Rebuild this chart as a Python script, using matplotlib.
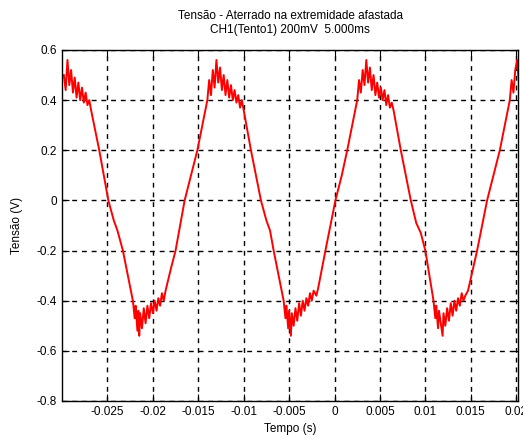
import numpy as np
import matplotlib
matplotlib.use("Agg")
from matplotlib import pyplot as plt

plt.rcParams['font.family'] = ['Liberation Sans', 'DejaVu Sans']
plt.rcParams['axes.unicode_minus'] = False

# trace: time (ms) and voltage (V)
tempo_ms = [
    -29.8, -29.6, -29.4, -29.2, -29.0, -28.8, -28.6, -28.4, -28.2, -28.0,
    -27.8, -27.6, -27.4, -27.2, -27.0, -26.8,
    -25.9, -24.9, -24.3, -23.9, -23.3, -22.2,
    -22.0, -21.9, -21.7, -21.6, -21.5, -21.4, -21.2, -21.0, -20.8, -20.6,
    -20.4, -20.2, -20.0, -19.8, -19.6, -19.4, -19.2, -19.0, -18.8, -18.6,
    -18.0, -17.5, -16.5, -15.8, -15.1, -14.5, -14.0,
    -13.8, -13.6, -13.4, -13.2, -13.0, -12.8, -12.6, -12.4, -12.2, -12.0,
    -11.8, -11.6, -11.4, -11.2, -11.0, -10.8, -10.6, -10.4, -10.2, -10.0,
    -9.2, -8.1, -7.5, -7.1, -6.7, -5.6,
    -5.4, -5.3, -5.1, -5.0, -4.8, -4.7, -4.5, -4.3, -4.1, -3.9,
    -3.7, -3.5, -3.3, -3.1, -2.9, -2.7, -2.5, -2.3, -2.0, -1.8,
    -1.0, 0.1, 0.8, 1.4, 2.0, 2.5,
    2.7, 2.9, 3.1, 3.3, 3.5, 3.7, 3.9, 4.1, 4.3, 4.5,
    4.7, 4.9, 5.1, 5.3, 5.5, 5.7, 5.9, 6.1, 6.3, 6.5,
    7.3, 8.4, 9.0, 9.5, 10.0, 10.9,
    11.1, 11.2, 11.4, 11.5, 11.7, 11.9, 12.0, 12.2, 12.4, 12.6,
    12.8, 13.0, 13.2, 13.4, 13.6, 13.8, 14.0, 14.2, 14.4, 14.7,
    15.2, 15.7, 16.8, 17.5, 18.2, 18.8, 19.3,
    19.5, 19.7, 19.9, 20.1, 20.3,
]
tensao = [
    0.50, 0.44, 0.56, 0.46, 0.52, 0.43, 0.49, 0.41, 0.47, 0.40,
    0.45, 0.39, 0.43, 0.38, 0.40, 0.36,
    0.20, 0.00, -0.08, -0.12, -0.20, -0.40,
    -0.47, -0.42, -0.52, -0.44, -0.54, -0.45, -0.51, -0.43, -0.49, -0.42,
    -0.47, -0.41, -0.45, -0.40, -0.44, -0.39, -0.42, -0.37, -0.40, -0.36,
    -0.27, -0.20, 0.00, 0.10, 0.20, 0.31, 0.40,
    0.48, 0.42, 0.52, 0.45, 0.56, 0.47, 0.53, 0.44, 0.50, 0.42,
    0.48, 0.41, 0.46, 0.40, 0.44, 0.39, 0.42, 0.37, 0.40, 0.36,
    0.20, 0.00, -0.08, -0.12, -0.20, -0.40,
    -0.47, -0.42, -0.51, -0.44, -0.54, -0.45, -0.50, -0.43, -0.48, -0.41,
    -0.46, -0.40, -0.44, -0.39, -0.42, -0.37, -0.40, -0.36, -0.38, -0.35,
    -0.20, 0.00, 0.10, 0.20, 0.31, 0.40,
    0.48, 0.43, 0.52, 0.46, 0.56, 0.47, 0.53, 0.44, 0.50, 0.42,
    0.47, 0.41, 0.45, 0.40, 0.44, 0.38, 0.42, 0.37, 0.39, 0.36,
    0.20, 0.00, -0.09, -0.13, -0.20, -0.40,
    -0.47, -0.42, -0.51, -0.44, -0.49, -0.54, -0.45, -0.50, -0.43, -0.48,
    -0.41, -0.46, -0.40, -0.44, -0.39, -0.42, -0.37, -0.40, -0.38, -0.36,
    -0.28, -0.20, 0.00, 0.10, 0.20, 0.31, 0.40,
    0.48, 0.43, 0.52, 0.56, 0.47,
]

xticks = [-0.025, -0.02, -0.015, -0.01, -0.005, 0, 0.005, 0.01, 0.015, 0.02]
xlabels = ["-0.025", "-0.02", "-0.015", "-0.01", "-0.005", "0", "0.005", "0.01", "0.015", "0.02"]
yticks = [-0.8, -0.6, -0.4, -0.2, 0, 0.2, 0.4, 0.6]
ylabels = ["-0.8", "-0.6", "-0.4", "-0.2", "0", "0.2", "0.4", "0.6"]

t = np.array(tempo_ms) / 1000.0

fig = plt.figure(figsize=(5.23, 4.38), dpi=100)
ax = fig.add_axes([0.1186, 0.0845, 0.8718, 0.8014])
ax.plot(t, tensao, color="#ff0000", linewidth=1.4)

ax.set_xlim(-0.03, 0.0202)
ax.set_ylim(-0.8, 0.6)
ax.set_xticks(xticks)
ax.set_xticklabels(xlabels)
ax.set_yticks(yticks)
ax.set_yticklabels(ylabels)
ax.tick_params(direction="in", top=True, right=True, labelsize=8.5, length=5)
ax.grid(True, color="black", linestyle=(0, (3.5, 3.5)), linewidth=1.0)
for s in ax.spines.values():
    s.set_linewidth(1.0)

ax.set_title("Tensão - Aterrado na extremidade afastada\nCH1(Tento1) 200mV  5.000ms",
             fontsize=8.5, pad=12, linespacing=1.3)
ax.set_xlabel("Tempo (s)", fontsize=8.5, labelpad=4)
ax.set_ylabel("Tensão (V)", fontsize=8.5, labelpad=10)

plt.savefig("out.png", dpi=100)
